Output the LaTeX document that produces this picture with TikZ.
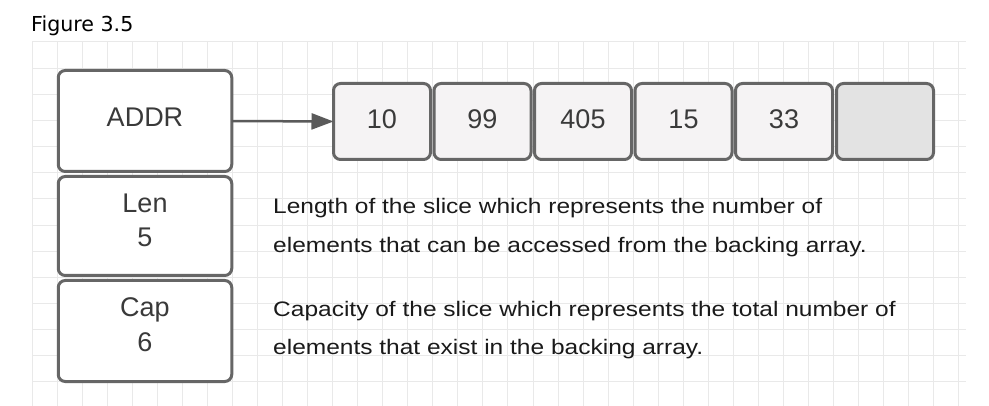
\documentclass[tikz,border=0pt]{standalone}
\usepackage{fontspec}
\setmainfont{Liberation Sans}
\newfontfamily\titlefont{DejaVu Sans}
\newfontfamily\descfont[FakeStretch=1.167]{Liberation Sans}
\usetikzlibrary{arrows.meta}
\definecolor{edgegray}{HTML}{666666}
\definecolor{gridgray}{HTML}{E9E9E9}
\definecolor{cellfill}{HTML}{F5F3F4}
\definecolor{emptyfill}{HTML}{E3E3E3}
\definecolor{labeltext}{HTML}{3A3A3A}
\definecolor{desctext}{HTML}{1A1A1A}
\definecolor{arrowgray}{HTML}{5A5A5A}
\tikzset{
  gridline/.style={draw=gridgray, line width=1pt},
  boxbase/.style={draw=edgegray, line width=3pt, rounded corners=7pt, inner sep=0pt, outer sep=0pt},
  leftbox/.style={boxbase, fill=white, minimum width=173.5pt},
  cellbox/.style={boxbase, fill=cellfill, minimum width=97pt, minimum height=76pt},
  emptybox/.style={cellbox, fill=emptyfill},
  lbl/.style={text=labeltext, font=\fontsize{27}{30}\selectfont, inner sep=0pt, anchor=base},
  desc/.style={text=desctext, font=\descfont\fontsize{21}{39}\selectfont, inner sep=0pt, align=left, anchor=base west},
  titletxt/.style={text=black, font=\titlefont\fontsize{20.6}{24}\selectfont, inner sep=0pt, anchor=base west},
  linkarrow/.style={draw=arrowgray, line width=2.5pt, -{Triangle[length=22pt,width=16pt]}}
}
\begin{document}
\begin{tikzpicture}[x=1pt,y=-1pt]
\fill[white] (0,0) rectangle (989,406);
\useasboundingbox (0,0) rectangle (989,406);
% grid
\foreach \i in {0,...,37} \draw[gridline] ({32+25.05*\i},42) -- ({32+25.05*\i},406);
\foreach \j in {0,...,13} \draw[gridline] (32,{42+26.15*\j}) -- (966,{42+26.15*\j});
% title
\node[titletxt] (title) at (31,32) {Figure 3.5};
% left column
\node[leftbox, minimum height=101pt] (addr) at (145,121) {};
\node[leftbox, minimum height=99pt] (len) at (145,226) {};
\node[leftbox, minimum height=101pt] (cap) at (145,331) {};
\node[lbl] (addrtxt) at (145,127) {ADDR};
\node[lbl] (lentxt) at (145,213) {Len};
\node[lbl] (lenval) at (145,247) {5};
\node[lbl] (captxt) at (145,317) {Cap};
\node[lbl] (capval) at (145,352) {6};
% array cells
\node[cellbox] (c1) at (382,121.5) {};
\node[cellbox] (c2) at (482.5,121.5) {};
\node[cellbox] (c3) at (583,121.5) {};
\node[cellbox] (c4) at (683.5,121.5) {};
\node[cellbox] (c5) at (784,121.5) {};
\node[emptybox] (c6) at (885,121.5) {};
\node[lbl] (v1) at (382,129) {10};
\node[lbl] (v2) at (482.5,129) {99};
\node[lbl] (v3) at (583,129) {405};
\node[lbl] (v4) at (683.5,129) {15};
\node[lbl] (v5) at (784,129) {33};
% arrow
\draw[linkarrow] (addr.east) -- (c1.west);
% descriptions (anchor at the baseline of the last line)
\node[desc] (lendesc) at (273,253) {Length of the slice which represents the number of\\elements that can be accessed from the backing array.};
\node[desc] (capdesc) at (273,355) {Capacity of the slice which represents the total number of\\elements that exist in the backing array.};
\end{tikzpicture}
\end{document}
